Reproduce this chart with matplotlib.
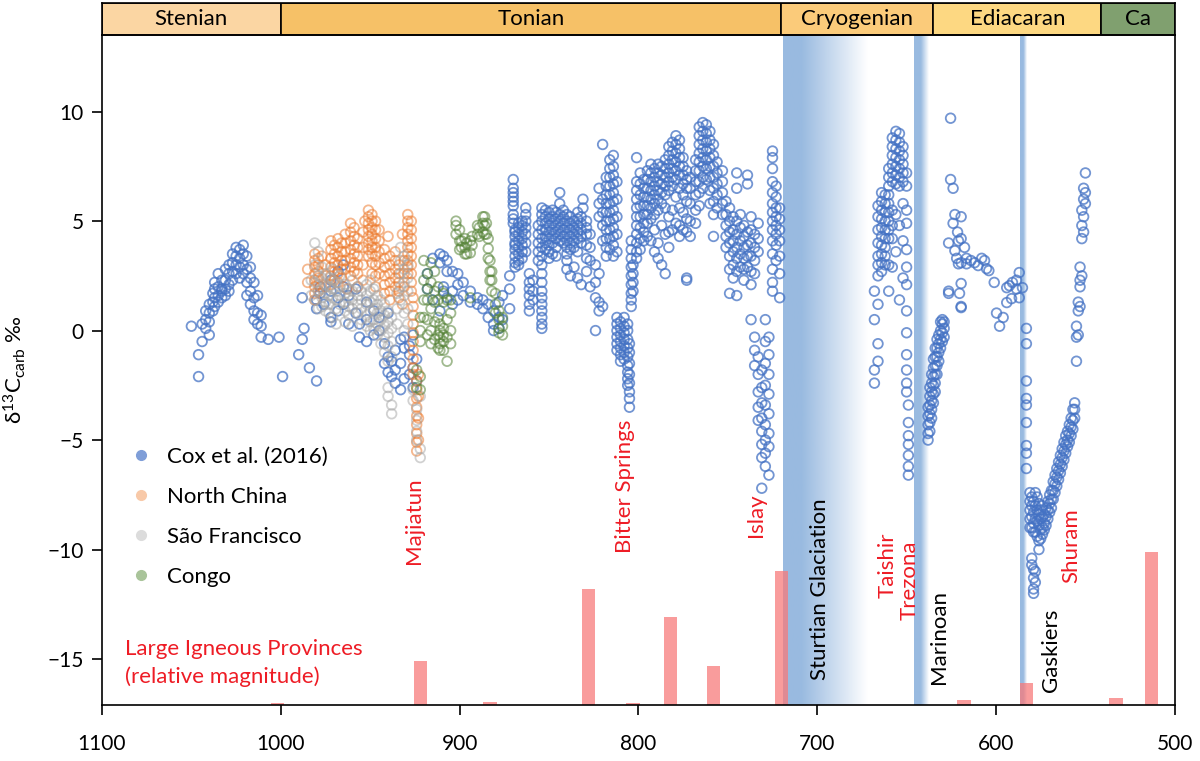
import matplotlib
matplotlib.use('Agg')
import matplotlib.pyplot as plt
import numpy as np
from matplotlib.lines import Line2D

plt.rcParams['font.family'] = ['Lato', 'DejaVu Sans']
plt.rcParams['mathtext.default'] = 'regular'

# --- carbonate carbon isotope data: (age in Ma, [d13C values]) ---
cox_cols = [
    (1050, [0.2]), (1046, [-2.1, -1.1]), (1044, [-0.5, 0.3]), (1042, [0.9, 0.5, 0.1]),
    (1040, [1.2, 0.8, 0.4, -0.2]), (1038, [1.7, 1.3, 0.9]), (1037, [2.2, 1.9, 1.5, 1.1]),
    (1035, [2.6, 2.0, 1.6, 1.3]), (1033, [1.9, 1.5, 1.8, 2.3]), (1031, [2.3, 1.9, 1.6, 2.8]),
    (1029, [3.0, 2.6, 2.1, 1.8]), (1027, [3.5, 3.1, 2.7, 2.3]), (1025, [3.8, 3.4, 3.0, 2.6]),
    (1023, [3.7, 3.3, 2.9, 2.4]), (1021, [3.9, 3.5, 3.0, 2.6]), (1019, [3.4, 2.8, 2.2, 1.6]),
    (1017, [2.9, 2.4, 1.8, 1.2]), (1015, [2.2, 1.5, 0.9, 0.5]), (1013, [1.6, 0.8, 0.3]),
    (1011, [0.7, 0.2, -0.3]), (1007, [-0.4]), (1001, [-0.3]), (999, [-2.1]),
    (990, [-1.1]), (988, [-0.4, 1.5]), (987, [0.1]), (984, [-1.7]), (980, [-2.3, 1.4, 1.0]),
    (978, [1.7, 2.0]), (976, [1.2]), (972, [0.6, 0.4, 2.3, 1.8]), (968, [1.5, 0.9, 2.7]),
    (965, [2.0, 1.2, 3.0]), (962, [0.3, 1.6]), (958, [0.8, 1.9]), (956, [0.3, -0.3]),
    (952, [0.5, -0.5, 1.3]), (948, [0.9, -0.2]), (945, [0.0, 0.6]), (942, [-1.5, -0.6]),
    (940, [-1.9, -1.2, 0.8]), (938, [-2.1, -1.4]), (936, [-2.4, -1.8, -0.9]),
    (933, [-1.5, -2.7, -0.4]), (931, [-0.8, -0.3, -2.2]), (928, [-1.1, -2.0, -0.7]),
    (926, [-1.7, -2.6, -0.2]), (924, [-1.3, -2.3]),
    (918, [2.6, 1.9]), (915, [3.3, 1.4]), (911, [3.5, 3.1, 0.9]), (909, [3.4, 2.0, 1.8]),
    (907, [3.2, 2.7, 1.5]), (904, [2.7, 1.8, 1.2]), (901, [2.6, 1.4, 2.1]), (898, [2.2, 1.6]),
    (894, [1.8, 1.3]), (890, [1.5, 1.2]), (887, [1.4, 1.0]), (884, [0.6, 1.2]),
    (881, [0.3, 0.9, 0.0]), (878, [1.3, 0.1, 0.6]), (876, [1.6, 0.5]),
    (872, [1.0, 1.9, 2.5]), (870, [6.9, 6.5, 6.3, 6.1, 5.9, 5.7, 5.3, 5.1, 4.9]),
    (869, [4.6, 4.3, 4.0, 3.7, 3.4, 3.1, 2.9, 4.5, 3.9]),
    (867, [4.4, 4.1, 3.8, 3.5, 3.2, 3.0, 4.7, 4.9]),
    (865, [4.2, 3.9, 3.6, 3.3, 4.5, 4.8, 5.0]),
    (863, [5.6, 5.3, 5.0, 4.7, 4.4, 4.0, 3.6]),
    (861, [2.6, 2.2, 1.9, 1.6, 1.2, 0.9]), (859, [2.3, 1.8, 1.4]),
    (856, [4.8, 4.4, 4.0, 3.6, 3.2]),
    (854, [5.6, 5.3, 5.0, 4.6, 4.2, 3.8, 3.4, 3.0, 2.6, 2.2, 1.8, 1.5, 1.2, 0.9, 0.6, 0.3, 0.1]),
    (852, [5.5, 5.2, 4.9, 4.6, 4.3, 4.0, 3.7]),
    (850, [5.4, 5.1, 4.8, 4.5, 4.2, 3.9, 3.6, 3.3]),
    (848, [5.5, 5.2, 4.9, 4.6, 4.3, 4.0, 3.5]),
    (846, [5.4, 5.1, 4.8, 4.5, 4.2, 3.8, 3.4]),
    (844, [6.3, 5.8, 5.3, 5.0, 4.7, 4.4, 4.1]),
    (842, [5.5, 5.2, 4.9, 4.6, 4.3, 4.0]),
    (840, [5.3, 5.0, 4.7, 4.4, 4.1, 3.8, 3.5, 3.2, 2.8]),
    (838, [5.2, 4.9, 4.6, 4.3, 4.0, 3.7, 2.5]),
    (836, [5.0, 4.7, 4.4, 4.1, 3.8, 2.9]),
    (834, [5.4, 5.1, 4.8, 4.5, 4.2, 3.6, 2.4]),
    (832, [5.2, 4.9, 4.6, 4.3, 4.0, 2.1]), (831, [6.0, 5.6]),
    (829, [5.0, 4.7, 4.4, 3.9, 3.3, 2.7]), (827, [4.4, 3.8, 3.2, 2.0]),
    (824, [0.0, 1.5, 2.2, 3.0]), (822, [0.9, 1.3, 2.6, 5.2, 5.8, 6.5]),
    (820, [8.5, 6.0, 5.4, 4.8, 4.1, 1.1]),
    (818, [7.0, 6.6, 6.2, 5.8, 5.4, 5.0, 4.6, 4.2, 3.8, 3.4]),
    (816, [7.8, 7.4, 7.0, 6.6, 6.2, 5.8, 5.4, 5.0, 4.6, 4.2, 3.7]),
    (814, [8.0, 7.5, 7.1, 6.7, 6.3, 5.9, 5.5, 5.1, 4.7, 4.3, 3.9, 3.4]),
    (812, [6.8, 6.0, 5.2, 4.4, 3.6, 0.6, 0.3, 0.0, -0.3, -0.6, -0.9]),
    (810, [0.4, 0.1, -0.2, -0.5, -0.8, -1.1, -1.4]),
    (808, [0.6, 0.2, -0.1, -0.4, -0.7, -1.0, -1.3]),
    (806, [0.3, 0.0, -0.4, -0.8, -1.2, -1.6, -1.9, -2.2, -2.5]),
    (805, [-0.6, -1.0, -1.5, -2.0, -2.4, -2.8, -3.1, -3.5]),
    (804, [4.1, 3.7, 3.3, 2.9, 2.5, 2.1, 1.7, 1.4, 1.1]),
    (803, [3.0, 2.6, 2.2, 1.8]),
    (801, [7.9, 6.8, 6.4, 6.0, 5.6, 5.2, 4.8, 4.4, 4.0, 3.6, 3.3]),
    (799, [7.2, 6.7, 6.2, 5.7, 5.2, 4.7, 4.2, 3.7]),
    (797, [6.9, 6.5, 6.1, 5.7, 5.3, 4.9, 4.5, 4.1]),
    (795, [7.3, 6.9, 6.5, 6.1, 5.7, 5.3, 4.9, 4.3]),
    (793, [7.6, 7.2, 6.8, 6.4, 6.0, 5.6, 5.1, 4.1]),
    (791, [7.4, 7.0, 6.6, 6.2, 5.8, 5.3, 4.6, 3.6]),
    (789, [7.6, 7.2, 6.8, 6.4, 6.0, 5.5, 4.0, 3.3]),
    (787, [7.5, 7.1, 6.7, 6.3, 5.8, 4.8, 3.0]),
    (785, [7.8, 7.4, 7.0, 6.6, 6.2, 5.6, 4.4, 2.6]),
    (783, [8.4, 8.0, 7.6, 7.2, 6.8, 6.4, 5.2, 4.5, 3.8]),
    (781, [8.6, 8.2, 7.8, 7.4, 7.0, 6.6, 5.5, 4.6]),
    (779, [8.9, 8.5, 8.1, 7.7, 7.3, 6.9, 6.1, 4.9]),
    (777, [8.7, 8.3, 7.9, 7.5, 7.1, 6.5, 5.6, 4.8, 4.3]),
    (775, [7.9, 7.5, 7.1, 6.7, 6.2, 5.4, 4.6]),
    (773, [7.3, 6.9, 6.5, 5.9, 5.1, 4.5, 2.4, 2.3]),
    (771, [7.0, 6.5, 5.8, 5.0, 4.3]),
    (768, [7.8, 7.3, 6.8, 6.2, 5.5, 4.9]),
    (766, [9.3, 8.9, 8.5, 8.1, 7.7, 7.3, 6.8, 6.3, 5.7]),
    (764, [9.5, 9.1, 8.7, 8.3, 7.9, 7.5, 7.0, 6.5]),
    (762, [9.4, 9.0, 8.6, 8.2, 7.8, 7.4, 6.9]),
    (760, [9.1, 8.7, 8.3, 7.9, 7.5, 7.0, 6.4, 5.8]),
    (758, [8.5, 8.0, 7.5, 7.0, 6.5, 5.9, 5.3, 4.3]),
    (756, [7.7, 7.2, 6.7, 6.2, 5.6]), (753, [7.3, 6.8, 6.3, 5.8, 5.3]),
    (751, [5.9, 5.3, 4.8, 4.3, 3.8]), (749, [5.6, 5.0, 4.5, 4.0, 3.4, 2.8, 1.7]),
    (747, [5.2, 4.6, 4.1, 3.6, 3.0, 2.4]), (745, [7.2, 6.5, 5.0, 4.4, 3.8, 3.3, 2.7, 1.6]),
    (743, [5.3, 4.7, 4.1, 3.5, 2.9]), (741, [4.8, 4.3, 3.8, 3.3, 2.8, 2.3]),
    (739, [7.1, 6.7, 4.5, 3.9, 3.4, 2.9]), (737, [5.2, 4.6, 4.0, 3.4, 2.7, 2.1, 0.5]),
    (735, [4.4, 3.8, 3.2, 2.6, -0.3, -0.9, -1.6]),
    (733, [4.9, 4.2, 3.6, -1.2, -2.0, -2.8, -3.5, -4.1]),
    (731, [-1.8, -2.6, -3.3, -4.0, -4.6, -5.2, -5.8, -7.2]),
    (729, [0.5, -0.5, -1.5, -2.5, -3.4, -4.3, -5.0, -5.6, -6.2]),
    (727, [-0.3, -1.1, -2.0, -2.9, -3.8, -4.7, -5.3, -6.6]),
    (725, [8.2, 7.9, 7.4, 6.8, 6.3, 5.8, 5.4, 5.0, 4.6, 4.1, 3.5, 2.8, 2.2, 1.8]),
    (723, [6.6, 6.1, 5.6, 5.2, 4.8, 4.4, 3.9, 3.2]),
    (721, [5.6, 5.1, 4.6, 4.1, 3.4, 2.6, 1.5]),
    (668, [1.8, 0.5, -1.8, -2.4]),
    (666, [5.7, 5.2, 4.6, 4.0, 3.4, 3.0, 2.5, 1.2, -0.6, -1.4]),
    (664, [6.3, 5.9, 5.5, 5.1, 4.7, 4.3, 3.9, 3.5, 3.1, 2.7]),
    (662, [6.2, 5.8, 5.4, 5.0, 4.6, 4.2, 3.8, 3.4, 3.0]),
    (660, [7.4, 7.0, 6.6, 6.2, 5.8, 5.4, 5.0, 4.6, 4.2, 3.0, 1.8]),
    (658, [8.8, 8.4, 8.0, 7.6, 7.2, 6.8, 5.5, 4.8, 4.2, 2.9]),
    (656, [9.1, 8.7, 8.3, 7.9, 7.5, 7.1, 6.7, 5.3, 3.6]),
    (654, [9.0, 8.6, 8.2, 7.8, 7.4, 7.0, 6.6, 4.8, 1.4]),
    (652, [8.4, 8.0, 7.6, 7.2, 6.8, 5.8, 4.1, 2.4]),
    (650, [7.2, 6.6, 5.5, 4.9, 3.7, 2.9, 2.1, 0.9, -0.1, -1.1, -1.8, -2.4, -2.8]),
    (649, [-3.4, -4.2, -4.8, -5.2, -5.7, -6.2, -6.6]),
    (638, [-5.0, -4.7, -4.3, -3.9, -3.5]), (637, [-4.6, -4.2, -3.8, -3.4, -3.0, -2.6]),
    (636, [-4.0, -3.6, -3.2, -2.8, -2.4, -2.0]), (635, [-3.3, -2.9, -2.5, -2.1, -1.7, -1.3]),
    (634, [-2.8, -2.4, -2.0, -1.6, -1.2, -0.8]), (633, [-2.0, -1.6, -1.2, -0.8, -0.4]),
    (632, [-1.4, -1.0, -0.6, -0.2]), (631, [-0.8, -0.4, 0.0, 0.4]),
    (630, [-0.5, -0.1, 0.3, 0.5]), (629, [-0.3, 0.1, 0.4]),
    (626.5, [1.7, 1.8, 4.0]), (625.4, [9.7, 6.9]), (624, [6.5, 4.9]), (623, [5.3, 3.65]),
    (622, [3.3]), (621.5, [4.5]), (621, [4.1, 3.05]), (620.4, [1.7]),
    (619.5, [5.2, 4.2, 3.1, 2.15, 1.1, 1.05]), (617.6, [3.8]), (616.5, [3.3, 3.05]),
    (614, [3.2]), (612, [3.1]), (610, [2.97]), (608, [3.3]), (606.4, [3.2]),
    (605.3, [2.83]), (604, [2.74]), (601, [2.2]), (599.7, [0.8]), (598, [0.2]),
    (596, [0.6]), (594, [1.28, 1.96]), (592.5, [2.05]), (591.3, [1.46]), (590.8, [2.2]),
    (588.5, [2.3, 1.9]), (587, [2.65, 1.5]), (585.2, [1.96]),
    (583, [0.1, -0.6, -2.3, -3.1, -3.4, -4.2, -5.25, -5.6, -6.3]),
    (581, [-7.4, -7.8, -8.2, -8.6, -9.0]), (580, [-7.6, -8.0, -8.5, -9.0, -10.4, -10.7]),
    (579, [-7.8, -8.3, -8.8, -9.2, -10.9, -11.3, -11.8, -12.0]),
    (578, [-7.4, -8.0, -8.6, -9.2, -11.0, -11.5]), (577, [-7.6, -8.2, -8.7, -9.4]),
    (576, [-7.9, -8.4, -8.9, -9.6, -10.0]), (575, [-8.2, -8.6, -9.1, -9.5]),
    (574, [-8.0, -8.5, -9.0, -9.3]), (573, [-8.4, -8.8, -9.1]), (572, [-8.1, -8.5, -8.9]),
    (571, [-7.8, -8.2, -8.6]), (570, [-7.5, -7.9, -8.3]), (569, [-7.3, -7.7, -8.1]),
    (568, [-6.9, -7.3, -7.7]), (567, [-6.6, -7.0, -7.4]), (566, [-6.3, -6.7, -7.1]),
    (565, [-6.0, -6.4, -6.8]), (564, [-5.7, -6.1, -6.5]), (563, [-5.4, -5.8, -6.2]),
    (562, [-5.1, -5.5, -5.9]), (561, [-4.8, -5.2, -5.6]), (560, [-4.6, -5.0, -5.3]),
    (559, [-4.3, -4.7, -5.1]), (558, [-4.0, -4.4, -4.8]), (557, [-3.6, -4.1, -4.5]),
    (556, [-3.3, -3.6, -4.0]),
    (555, [-1.4, -0.3, 0.2]), (554, [0.9, 1.3, -0.2]), (553, [2.0, 2.3, 2.9, 1.1]),
    (552, [4.2, 4.8, 5.5, 2.5]), (551, [6.0, 6.5, 4.5, 5.2]), (550, [7.2, 6.3, 5.8]),
]

north_china_cols = [
    (985, [2.8, 2.2]), (981, [3.5, 3.2, 2.9, 2.6, 2.3, 2.0, 1.7, 1.4]),
    (979, [3.3, 3.0, 2.7, 2.4, 2.1, 1.8]), (977, [3.4]), (975, [3.0, 2.5, 2.0]),
    (972, [4.1, 3.7, 3.3, 2.9, 2.5, 2.1]), (970, [3.9, 3.5, 3.1, 2.7, 2.3]),
    (968, [4.2, 3.8, 3.4, 3.0, 2.6, 2.2]), (966, [4.0, 3.6, 3.2, 2.8, 2.4]),
    (964, [4.4, 4.0, 3.6, 3.2, 2.8]), (963, [1.9]),
    (961, [4.9, 4.5, 4.1, 3.7, 3.3, 2.9, 2.5]), (959, [4.7, 4.3, 3.9, 3.5, 3.1, 2.7]),
    (957, [4.2, 3.8, 3.4, 3.0, 2.6, 2.0]), (954, [4.5, 3.8, 3.0, 2.3]), (953, [5.0]),
    (951, [5.5, 5.2, 4.9, 4.6, 4.3, 4.0, 3.7, 3.4]),
    (949, [5.3, 5.0, 4.7, 4.4, 4.1, 3.8, 3.5, 3.1, 2.6]),
    (947, [5.0, 4.6, 4.2, 3.8, 3.4, 3.0, 2.5, 2.0]), (945, [4.6, 4.1, 3.6, 3.1, 2.6]),
    (942, [3.7, 3.3, 2.9, 2.5, 2.1, 1.7]), (940, [4.3]),
    (939, [3.4, 3.0, 2.6, 2.2, 1.8, 1.4]), (936, [3.6, 3.2, 2.8, 2.4, 2.0]),
    (934, [3.0, 2.6, 2.2, 1.8, 1.5]), (932, [4.4, 1.2]), (931, [3.2, 2.6, 2.0]),
    (929, [5.3, 5.0, 4.7, 4.4, 4.1, 3.8, 3.5, 3.2, 2.9, 2.6]),
    (927, [5.0, 4.6, 4.2, 3.8, 3.4, 3.0, 2.6, 2.2, 1.8]),
    (926, [1.5, 1.1, 0.7, 0.3, -0.1, -0.5, -0.9, -1.3, -1.7, -2.0]),
    (924, [-2.3, -2.7, -3.1, -3.5, -3.9, -4.3, -4.7, -5.1, -5.5]),
    (923, [-2.0, -3.0, -4.0, -5.0]),
]

sao_francisco_cols = [
    (983, [2.3, 1.6]), (981, [4.0, 3.0, 2.2, 1.4]), (979, [3.6, 2.5, 1.8, 1.0]),
    (977, [2.9, 2.4, 1.9, 1.5, 1.1]), (975, [2.6, 2.1, 1.7, 1.3, 0.9]),
    (973, [2.4, 2.0, 1.6, 1.2, 0.8]), (971, [2.8, 2.3, 1.9, 1.5, 0.6]),
    (969, [2.2, 1.8, 1.4, 1.0, 0.3]), (967, [2.5, 2.0, 1.6, 1.2]),
    (964, [2.1, 1.7, 1.3, 0.9, 0.4]), (962, [1.9, 1.5, 1.1, 0.7]),
    (960, [2.3, 1.8, 1.4, 1.0, 0.2]), (957, [2.0, 1.6, 1.2, 0.8]),
    (955, [1.8, 1.4, 1.0, 0.5]), (952, [2.1, 1.6, 1.2, 0.7, 0.2]),
    (950, [2.3, 1.8, 1.3, 0.9, 0.4, 0.0]), (948, [1.9, 1.4, 1.0, 0.5, 0.1]),
    (946, [1.6, 1.2, 0.8, 0.3, -0.2]), (944, [1.4, 0.9, 0.5, 0.0, -0.6]),
    (942, [1.2, 0.7, 0.2, -0.3, -1.0]), (940, [0.9, 0.4, -0.1, -0.7, -1.4, -2.6, -3.0]),
    (938, [0.6, 0.1, -0.5, -1.2, -3.4, -3.8]), (935, [1.7, 1.0, 0.3]),
    (933, [3.8, 3.2, 2.6, 2.0, 1.4]), (931, [3.4, 2.8, 2.2, 1.6, 0.8, 0.0]),
    (929, [3.0, 2.4, 1.8, 1.0, 0.3]), (926, [-2.7, -3.2]),
    (924, [-3.6, -4.1, -4.6, -5.0]), (922, [-5.4, -5.8, -3.0]),
]

congo_cols = [
    (924, [-2.6, -1.8]), (922, [0.6, 0.0, -0.5, -2.1, -2.7]), (920, [3.2, 2.3, 1.4, 0.6]),
    (918, [2.6, 1.9, 1.4, 0.5, -0.2]), (916, [3.1, 2.2, 1.0, 0.0, -0.6]),
    (914, [2.7, 1.8, 1.3, 0.4, -0.4]), (912, [2.0, 1.4, 0.6, -0.2, -0.8]),
    (911, [0.3, 0.0, -0.3, -0.6, -0.9]), (909, [1.7, 1.3, 0.1, -0.2, -0.5, -0.9]),
    (907, [1.4, 0.5, -0.3, -1.4]), (905, [1.4, 0.8, 0.0, -0.6]),
    (902, [5.0, 4.8, 4.4]), (900, [4.6, 4.1, 3.7]), (899, [4.1, 3.8]),
    (897, [3.8, 3.5, 4.2]), (896, [3.5, 4.0]), (894, [3.55, 4.1, 1.5]), (893, [3.9, 4.3]),
    (890, [4.4, 4.8]), (889, [4.7, 4.3]), (887, [4.9, 5.2, 4.5]), (886, [5.2, 4.8, 4.4]),
    (885, [4.4, 4.9]), (884, [3.75, 4.2, 3.3]), (883, [3.2, 2.7, 2.3]),
    (882, [2.7, 2.3, 1.8]), (880, [1.7, 1.2, 0.8]), (878, [0.9, 0.5, 0.1, -0.1]),
    (876, [0.6, 0.2, -0.2]),
]

# large igneous provinces: age (Ma) and bar top on the d13C axis
lip_age = [1002, 922, 883, 828, 803, 782, 758, 720, 618, 583, 533, 513]
lip_top = [-17.0, -15.1, -16.95, -11.8, -17.0, -13.1, -15.3, -11.0, -16.85, -16.1, -16.8, -10.1]

# geological periods: name, start, end (Ma)
period_names = ['Stenian', 'Tonian', 'Cryogenian', 'Ediacaran', 'Ca']
period_start = [1100, 1000, 720, 635, 541]
period_end = [1000, 720, 635, 541, 500]
period_colors = ['#FBD6A3', '#F6C167', '#FBCB7A', '#FDD882', '#80A06F']

# glaciations: start, end (Ma)
glaciations = [(719, 672), (646, 638), (586.5, 583)]

YMIN, YMAX = -17.1, 13.5


def flatten(cols):
    ages = [a for a, vals in cols for _ in vals]
    vals = [v for _, vs in cols for v in vs]
    return np.array(ages), np.array(vals)


def gradient_band(ax, x0, x1, solid_frac, color):
    n = 200
    alpha = np.ones(n)
    k = int(n * solid_frac)
    alpha[k:] = np.linspace(1, 0, n - k)
    img = np.zeros((1, n, 4))
    img[0, :, :3] = color
    img[0, :, 3] = alpha
    ax.imshow(img, extent=[x0, x1, YMIN, YMAX], aspect='auto',
              interpolation='bilinear', zorder=0)


fig = plt.figure(figsize=(12, 7.61), dpi=100)
ax = fig.add_axes([0.085, 0.0736, 0.894, 0.8804])
ax_top = fig.add_axes([0.085, 0.954, 0.894, 0.042])

band_color = (0.60, 0.73, 0.88)
gradient_band(ax, glaciations[0][0], glaciations[0][1], 0.22, band_color)
gradient_band(ax, glaciations[1][0], glaciations[1][1], 0.45, band_color)
gradient_band(ax, glaciations[2][0], glaciations[2][1], 0.5, band_color)

# LIP bars
ax.bar(lip_age, np.array(lip_top) - YMIN, bottom=YMIN, width=7.5,
       color='#F77B7B', alpha=0.75, linewidth=0, zorder=1)

series = [
    (cox_cols, '#4472C4', 0.75),
    (north_china_cols, '#ED7D31', 0.55),
    (sao_francisco_cols, '#A5A5A5', 0.5),
    (congo_cols, '#548235', 0.55),
]
for cols, c, a in series:
    x, y = flatten(cols)
    ax.scatter(x, y, s=48, facecolors='none', edgecolors=c, linewidths=1.3,
               alpha=a, zorder=3)

ax.set_xlim(1100, 500)
ax.set_ylim(YMIN, YMAX)
ax.set_xticks([1100, 1000, 900, 800, 700, 600, 500])
ax.set_yticks([-15, -10, -5, 0, 5, 10])
ax.set_yticklabels(['\u221215', '\u221210', '\u22125', '0', '5', '10'])
ax.tick_params(direction='out', length=7, width=1.2, labelsize=15, pad=6)
ax.tick_params(axis='x', pad=14)
for sp in ax.spines.values():
    sp.set_linewidth(1.2)
ax.set_ylabel('\u03b4$^{13}$C$_{carb}$ \u2030', fontsize=16, labelpad=14)

# event labels
red_labels = [('Majiatun', 925.6, -8.7), ('Bitter Springs', 807.7, -7.1),
              ('Islay', 734, -8.45), ('Taishir', 660.6, -10.7),
              ('Trezona', 648.4, -11.4), ('Shuram', 557.8, -9.8)]
for txt, xa, ya in red_labels:
    ax.text(xa, ya, txt, rotation=90, color='#EE1C25', fontsize=16,
            ha='center', va='center', zorder=4)
black_labels = [('Sturtian Glaciation', 698.7, -11.8), ('Marinoan', 631.6, -14.0),
                ('Gaskiers', 569, -14.6)]
for txt, xa, ya in black_labels:
    ax.text(xa, ya, txt, rotation=90, color='black', fontsize=16,
            ha='center', va='center', zorder=4)

ax.text(1087, -15.2, 'Large Igneous Provinces\n(relative magnitude)', color='#EE1C25',
        fontsize=16, ha='left', va='center', linespacing=1.45)

handles = [
    Line2D([], [], ls='', marker='o', ms=7, color='#7F9ED8', label='Cox et al. (2016)'),
    Line2D([], [], ls='', marker='o', ms=7, color='#F8C9A8', label='North China'),
    Line2D([], [], ls='', marker='o', ms=7, color='#DCDCDC', label='S\u00e3o Francisco'),
    Line2D([], [], ls='', marker='o', ms=7, color='#A9C49A', label='Congo'),
]
ax.legend(handles=handles, loc='upper left', bbox_to_anchor=(0.005, 0.415), frameon=False,
          fontsize=16, handletextpad=0.6, labelspacing=0.9, handlelength=1.2)

# period bar
ax_top.set_xlim(1100, 500)
ax_top.set_ylim(0, 1)
for name, s, e, c in zip(period_names, period_start, period_end, period_colors):
    ax_top.axvspan(s, e, facecolor=c, edgecolor='black', linewidth=1.2)
    ax_top.text((s + e) / 2, 0.5, name, ha='center', va='center', fontsize=16)
ax_top.set_xticks([])
ax_top.set_yticks([])
for sp in ax_top.spines.values():
    sp.set_linewidth(1.2)

fig.savefig('out.png', dpi=100)
